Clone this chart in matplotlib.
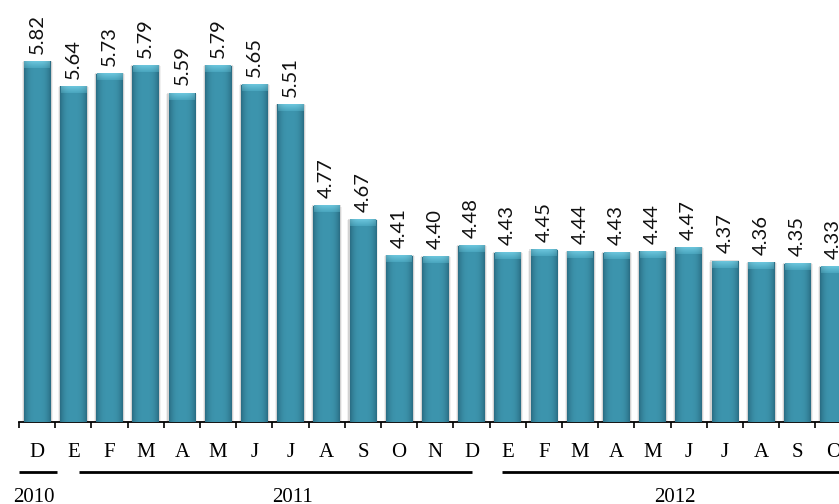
import numpy as np
import matplotlib
matplotlib.use("Agg")
import matplotlib.pyplot as plt
from matplotlib import transforms
from matplotlib.patches import Rectangle
from matplotlib.colors import to_rgb

# Monthly values, December 2010 through October 2012
months = ["D", "E", "F", "M", "A", "M", "J", "J", "A", "S", "O", "N", "D",
          "E", "F", "M", "A", "M", "J", "J", "A", "S", "O"]
values = [5.82, 5.64, 5.73, 5.79, 5.59, 5.79, 5.65, 5.51, 4.77, 4.67, 4.41, 4.40, 4.48,
          4.43, 4.45, 4.44, 4.43, 4.44, 4.47, 4.37, 4.36, 4.35, 4.33]
year_labels = ["2010", "2011", "2012"]
year_spans = [(-0.5, 0.55), (1.17, 12.0), (12.83, 23.5)]
year_centers = [-0.1, 7.05, 17.62]

Y_MIN, Y_MAX = 3.2, 6.2
BAR_W = 0.74

W, H = 839, 504
fig = plt.figure(figsize=(W / 100, H / 100), dpi=100)
ax = fig.add_axes([19 / W, (H - 422) / H, 832.6 / W, 412.8 / H])
ax.set_xlim(-0.5, 22.5)
ax.set_ylim(Y_MIN, Y_MAX)

x = np.arange(len(values))
body = "#3a8fa8"
bars = ax.bar(x, values, width=BAR_W, color=body, zorder=2, linewidth=0)

# soft shading: horizontal gradient on each bar plus a lighter cap
edge = np.array(to_rgb("#2a6d83"))
mid = np.array(to_rgb("#3d95ae"))
t = np.linspace(-1, 1, 64)
wgt = (1 - np.abs(t) ** 3)[:, None]
grad = (edge * (1 - wgt) + mid * wgt)[None, :, :]

cap_top = np.array(to_rgb("#6cc6dd"))
cap_bot = np.array(to_rgb("#4aa6bf"))
s = np.linspace(0, 1, 16)[:, None, None]
cap = cap_top * (1 - s) + cap_bot * s
cap = cap * (0.85 + 0.15 * wgt.reshape(1, -1, 1))
cap_h = 6.5 / 137.6

for b, v in zip(bars, values):
    x0 = b.get_x()
    w = b.get_width()
    # shadow halo
    ax.add_patch(Rectangle((x0 - 0.03, Y_MIN), w + 0.06, v - Y_MIN + 0.004,
                           facecolor="#000000", alpha=0.12, linewidth=0, zorder=1))
    ax.add_patch(Rectangle((x0 - 0.06, Y_MIN), w + 0.12, v - Y_MIN - 0.004,
                           facecolor="#000000", alpha=0.06, linewidth=0, zorder=1))
    im = ax.imshow(grad, extent=[x0, x0 + w, Y_MIN, v], aspect="auto",
                   interpolation="bilinear", zorder=3)
    im.set_clip_path(b)
    ax.imshow(cap, extent=[x0 + 0.02, x0 + w - 0.02, v - cap_h, v], aspect="auto",
              interpolation="bilinear", zorder=4)
    ax.annotate(f"{v:.2f}", (b.get_x() + w / 2, v), xytext=(0, 5.5),
                textcoords="offset points", rotation=90, ha="center", va="bottom",
                fontsize=14.5, family="Lato", color="#111111", zorder=5,
                annotation_clip=False)

for sp in ("left", "right", "top"):
    ax.spines[sp].set_visible(False)
ax.spines["bottom"].set_linewidth(1.3)
ax.set_yticks([])
ax.set_xticks(x, [""] * len(x))
ax.tick_params(axis="x", which="major", length=0)
ax.set_xticks(np.arange(-0.5, len(values), 1), minor=True)
ax.tick_params(axis="x", which="minor", length=4.5, width=1.2, direction="out")

# month letters and year brackets below the axis
tr = transforms.blended_transform_factory(ax.transData, fig.transFigure)
serif = "Liberation Serif"
for i, m in enumerate(months):
    ax.text(i, (H - 457.3) / H, m, transform=tr, ha="center", va="baseline",
            fontsize=15, family=serif, clip_on=False)
for lbl, (a, b), c in zip(year_labels, year_spans, year_centers):
    ax.plot([a, b], [(H - 472) / H] * 2, transform=tr, color="black", lw=2,
            clip_on=False, solid_capstyle="butt")
    ax.text(c, (H - 501.7) / H, lbl, transform=tr, ha="center", va="baseline",
            fontsize=15, family=serif, clip_on=False)

fig.savefig("out.png", dpi=100)
